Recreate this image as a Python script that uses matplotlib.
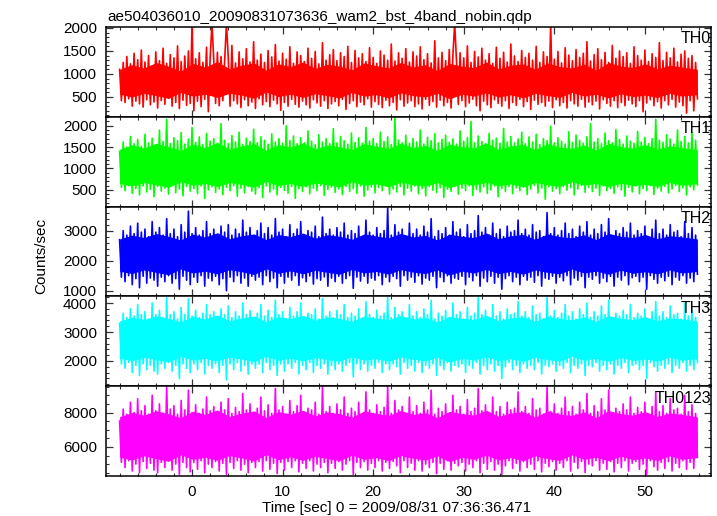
import numpy as np
import matplotlib
matplotlib.use("Agg")
import matplotlib.pyplot as plt
from matplotlib.ticker import MultipleLocator

plt.rcParams['font.family'] = ['Liberation Sans', 'DejaVu Sans']

title = "ae504036010_20090831073636_wam2_bst_4band_nobin.qdp"
xlabel = "Time [sec] 0 = 2009/08/31 07:36:36.471"
ylabel = "Counts/sec"
labels = ["TH0", "TH1", "TH2", "TH3", "TH0123"]
colors = ["#ff0000", "#00ff00", "#0000ff", "#00ffff", "#ff00ff"]
t_start = -8.0
t_step = 0.2          # light-curve bin spacing (s)
core_step = 1.35      # spacing of the dense-band envelope samples (s)

# Light-curve samples (counts/sec)
th0 = [
    1100, 420, 1250, 380, 1380, 460, 1220, 300, 1450, 410, 1310, 350, 1520, 280, 1260, 440, 1400, 330, 1180, 390,
    1480, 260, 1290, 420, 1560, 340, 1230, 470, 1420, 300, 1350, 380, 1610, 250, 1270, 430, 1390, 320, 1500, 360,
    2100, 200, 1330, 410, 1460, 290, 1250, 450, 1580, 180, 1340, 2100, 1290, 360, 1470, 310, 1380, 420, 1290, 2100,
    1350, 300, 1620, 420, 1240, 350, 1480, 270, 1330, 440, 1550, 310, 1260, 390, 1700, 250, 1300, 460, 1430, 330,
    1250, 400, 1510, 290, 1370, 430, 1640, 350, 1280, 210, 1450, 380, 1320, 300, 1590, 450, 1230, 340, 1480, 280,
    1400, 410, 1270, 330, 1560, 260, 1340, 440, 1490, 370, 1220, 300, 1680, 420, 1300, 250, 1420, 350, 1530, 400,
    1290, 310, 1460, 450, 1380, 230, 1600, 360, 1250, 420, 1510, 290, 1350, 390, 1440, 330, 1270, 460, 1570, 280,
    1360, 400, 1230, 340, 1500, 270, 1410, 430, 1300, 310, 1650, 380, 1280, 220, 1460, 440, 1340, 300, 1550, 370,
    1260, 420, 1480, 290, 1390, 350, 1590, 240, 1310, 450, 1440, 320, 1240, 400, 1720, 280, 1350, 430, 1470, 310,
    1290, 380, 1530, 260, 1400, 2100, 1280, 340, 1460, 420, 1350, 290, 1610, 370, 1250, 450, 1490, 310, 1370, 200,
    1560, 410, 1300, 330, 1440, 270, 1230, 440, 1580, 360, 1340, 300, 1470, 420, 1260, 250, 1650, 380, 1390, 320,
    1270, 450, 1510, 290, 1360, 400, 1450, 230, 1300, 430, 1600, 340, 1250, 380, 1480, 300, 1380, 410, 2100, 270,
    1320, 440, 1490, 310, 1240, 380, 1570, 260, 1410, 420, 1290, 350, 1530, 300, 1360, 450, 1450, 280, 1700, 390,
    1280, 330, 1420, 410, 1550, 240, 1310, 440, 1470, 360, 1250, 300, 1620, 420, 1340, 270, 1500, 380, 1380, 310,
    1460, 430, 1230, 350, 1590, 290, 1400, 420, 1300, 180, 1520, 370, 1270, 440, 1440, 310, 1360, 400, 1680, 260,
    1290, 420, 1470, 330, 1350, 450, 1560, 280, 1260, 390, 1430, 310, 1500, 150, 1340, 420, 1400, 200, 1250, 460,
]

th1 = [
    1400, 560, 1620, 480, 1500, 600, 1750, 420, 1580, 530, 1680, 380, 1520, 590, 1800, 450, 1600, 510, 1710, 340,
    1550, 580, 1900, 470, 1630, 540, 2150, 400, 1580, 600, 1720, 430, 1650, 520, 1840, 360, 1570, 580, 1690, 470,
    1960, 530, 1610, 410, 1740, 590, 1560, 300, 1820, 500, 1640, 570, 1700, 440, 1590, 520, 2050, 390, 1660, 560,
    1580, 480, 1770, 600, 1620, 350, 1850, 540, 1560, 430, 1710, 580, 1630, 470, 1920, 400, 1600, 550, 1740, 320,
    1660, 590, 1570, 450, 1810, 520, 1620, 380, 1700, 560, 1590, 490, 2000, 420, 1650, 580, 1760, 300, 1580, 530,
    1720, 460, 1600, 570, 1880, 410, 1640, 540, 1560, 480, 1790, 600, 1620, 370, 1700, 510, 1580, 560, 1930, 440,
    1600, 520, 1750, 390, 1650, 580, 1570, 460, 1830, 530, 1610, 420, 1720, 590, 1590, 350, 1960, 500, 1640, 570,
    1700, 430, 1580, 550, 1850, 480, 1630, 600, 1740, 400, 1560, 520, 2200, 450, 1660, 580, 1600, 380, 1780, 540,
    1590, 470, 1700, 590, 1620, 410, 1900, 530, 1570, 360, 1730, 580, 1650, 490, 1810, 440, 1600, 550, 1680, 320,
    1780, 520, 1610, 460, 1690, 580, 1570, 400, 1880, 540, 1640, 480, 1720, 590, 2100, 370, 1600, 510, 1760, 450,
    1630, 570, 1580, 420, 1820, 500, 1660, 590, 1710, 340, 1590, 530, 1940, 460, 1620, 580, 1750, 410, 1600, 550,
    1690, 480, 1850, 560, 1580, 390, 1740, 520, 1620, 600, 1800, 430, 1560, 540, 1700, 280, 1650, 570, 1990, 470,
    1600, 530, 1720, 410, 1640, 580, 1570, 490, 1860, 550, 1610, 380, 1780, 520, 1660, 600, 1590, 440, 1740, 560,
    2050, 460, 1620, 540, 1700, 370, 1580, 590, 1830, 480, 1650, 530, 1600, 420, 1910, 570, 1680, 500, 1570, 350,
    1760, 560, 1640, 450, 1590, 590, 1870, 410, 1620, 530, 1730, 480, 1580, 600, 1700, 390, 2150, 540, 1660, 470,
    1610, 580, 1790, 430, 1690, 520, 1570, 600, 1900, 460, 1630, 550, 1750, 380, 1600, 570, 1840, 500, 1660, 620,
]

th2 = [
    2700, 1450, 3000, 1300, 2850, 1500, 3150, 1200, 2900, 1400, 3250, 1100, 2950, 1480, 3050, 1250, 2800, 1420, 3300, 1350,
    2950, 1150, 3100, 1450, 2850, 1300, 3400, 1500, 2900, 1250, 3050, 1400, 2800, 1050, 3200, 1480, 2950, 1350, 3650, 1200,
    2900, 1450, 3100, 1280, 2850, 1500, 3000, 1150, 3300, 1420, 2900, 1330, 3050, 1480, 2800, 1200, 3150, 1400, 2950, 1000,
    3200, 1450, 2850, 1300, 3050, 1500, 2900, 1250, 3350, 1420, 2950, 1150, 3100, 1480, 2800, 1350, 3000, 1450, 3250, 1200,
    2900, 1500, 3100, 1300, 2850, 1420, 3400, 1100, 2950, 1480, 3050, 1250, 2800, 1450, 3200, 1350, 2900, 1500, 3050, 1180,
    3300, 1430, 2850, 1300, 3000, 1490, 2950, 1220, 3150, 1400, 2800, 1350, 3450, 1460, 2900, 1150, 3050, 1420, 2850, 1300,
    3100, 1480, 2950, 1250, 3250, 1400, 2850, 1500, 3000, 1080, 2900, 1450, 3150, 1320, 2800, 1480, 3350, 1250, 2950, 1420,
    2850, 1350, 3100, 1500, 2900, 1200, 3000, 1450, 3750, 1300, 2850, 1480, 3200, 1400, 2950, 1150, 3050, 1500, 2800, 1350,
    3250, 1450, 2900, 1280, 3050, 1500, 2850, 1220, 3150, 1420, 2950, 1350, 3400, 1480, 2800, 1100, 3000, 1450, 2900, 1300,
    3100, 1500, 2850, 1250, 3300, 1420, 2950, 1380, 3050, 1480, 2800, 1200, 3200, 1450, 2900, 1330, 3000, 1500, 3500, 1150,
    2950, 1420, 3100, 1300, 2850, 1480, 3250, 1250, 2900, 1450, 3050, 1050, 2800, 1400, 3150, 1500, 2950, 1300, 3000, 1450,
    3350, 1200, 2900, 1480, 3050, 1350, 2850, 1450, 3200, 1280, 2950, 1500, 3000, 1150, 2800, 1420, 3600, 1380, 2900, 1480,
    3100, 1250, 2850, 1450, 3000, 1330, 3250, 1500, 2900, 1200, 3050, 1420, 2800, 1350, 3150, 1480, 2950, 1100, 3300, 1450,
    2850, 1380, 3050, 1500, 2900, 1250, 3200, 1420, 2950, 1300, 3400, 1480, 2800, 1150, 3000, 1450, 2900, 1350, 3100, 1500,
    2950, 1200, 3250, 1430, 2850, 1480, 3000, 1300, 2900, 1450, 3150, 1050, 2800, 1500, 3050, 1380, 3350, 1250, 2900, 1450,
    3050, 1330, 2850, 1480, 3200, 1200, 2950, 1450, 3000, 1350, 2800, 1500, 3300, 1250, 2900, 1420, 3100, 1300, 2850, 1550,
]

th3 = [
    3300, 1900, 3650, 1750, 3500, 1950, 3800, 1600, 3550, 1850, 3950, 1500, 3600, 1900, 3700, 1700, 3450, 1850, 4000, 1650,
    3600, 1550, 3750, 1900, 3500, 1750, 4200, 1950, 3600, 1650, 3700, 1850, 3450, 1400, 3850, 1900, 3600, 1750, 4150, 1600,
    3550, 1900, 3750, 1700, 3500, 1950, 3650, 1550, 3950, 1850, 3600, 1750, 3700, 1900, 3450, 1600, 3800, 1850, 3600, 1350,
    3900, 1900, 3500, 1700, 3700, 1950, 3550, 1650, 4000, 1850, 3600, 1550, 3750, 1900, 3450, 1750, 3650, 1900, 3950, 1600,
    3550, 1950, 3750, 1700, 3500, 1850, 4100, 1500, 3600, 1900, 3700, 1650, 3450, 1900, 3850, 1750, 3550, 1950, 3700, 1550,
    4000, 1850, 3500, 1700, 3650, 1950, 3600, 1600, 3800, 1850, 3450, 1750, 4150, 1900, 3550, 1550, 3700, 1850, 3500, 1700,
    3750, 1900, 3600, 1650, 3950, 1850, 3500, 1950, 3650, 1450, 3550, 1900, 3800, 1700, 3450, 1900, 4050, 1650, 3600, 1850,
    3500, 1750, 3750, 1950, 3550, 1600, 3650, 1900, 4200, 1700, 3500, 1900, 3850, 1800, 3600, 1550, 3700, 1950, 3450, 1750,
    3950, 1850, 3550, 1650, 3700, 1950, 3500, 1600, 3800, 1850, 3600, 1750, 4100, 1900, 3450, 1500, 3650, 1850, 3550, 1700,
    3750, 1950, 3500, 1650, 4000, 1850, 3600, 1800, 3700, 1900, 3450, 1600, 3850, 1850, 3550, 1750, 3650, 1950, 4200, 1550,
    3600, 1850, 3750, 1700, 3500, 1900, 3950, 1650, 3550, 1850, 3700, 1400, 3450, 1800, 3800, 1950, 3600, 1700, 3650, 1850,
    4050, 1600, 3550, 1900, 3700, 1750, 3500, 1850, 3900, 1700, 3600, 1950, 3650, 1550, 3450, 1850, 4200, 1800, 3550, 1900,
    3750, 1650, 3500, 1850, 3650, 1750, 3950, 1950, 3550, 1600, 3700, 1850, 3450, 1750, 3800, 1900, 3600, 1500, 4000, 1850,
    3500, 1800, 3700, 1950, 3550, 1650, 3900, 1850, 3600, 1700, 4100, 1900, 3450, 1550, 3650, 1850, 3550, 1750, 3750, 1950,
    3600, 1600, 3950, 1850, 3500, 1900, 3650, 1700, 3550, 1850, 3800, 1400, 3450, 1950, 3700, 1800, 4050, 1650, 3550, 1850,
    3700, 1750, 3500, 1900, 3900, 1600, 3600, 1850, 3650, 1750, 3450, 1950, 4000, 1650, 3550, 1850, 3750, 1700, 3500, 1950,
]

th0123 = [
    7500, 5100, 8200, 4800, 7900, 5200, 8600, 4600, 8000, 5000, 8800, 4500, 8100, 5150, 8400, 4750, 7900, 5050, 9000, 4650,
    8100, 4500, 8500, 5100, 7950, 4800, 9500, 5200, 8200, 4650, 8400, 5000, 7900, 4400, 8700, 5100, 8150, 4800, 9300, 4550,
    8000, 5100, 8450, 4700, 7950, 5200, 8200, 4500, 8900, 5000, 8100, 4800, 8350, 5150, 7900, 4600, 8600, 5050, 8150, 4400,
    8800, 5100, 7950, 4750, 8300, 5200, 8050, 4650, 9100, 5000, 8150, 4500, 8500, 5100, 7900, 4800, 8250, 5150, 8900, 4600,
    8100, 5200, 8450, 4700, 7950, 5050, 9400, 4450, 8150, 5100, 8350, 4650, 7900, 5150, 8700, 4800, 8050, 5200, 8400, 4550,
    9000, 5050, 7950, 4750, 8250, 5200, 8150, 4600, 8600, 5000, 7900, 4800, 9500, 5100, 8050, 4500, 8350, 5050, 7950, 4750,
    8500, 5150, 8150, 4650, 8900, 5000, 7950, 5200, 8250, 4400, 8050, 5100, 8600, 4800, 7900, 5150, 9200, 4650, 8150, 5050,
    7950, 4800, 8450, 5200, 8050, 4600, 8300, 5100, 9500, 4750, 7950, 5150, 8700, 4900, 8150, 4500, 8350, 5200, 7900, 4800,
    8900, 5050, 8050, 4650, 8400, 5200, 7950, 4600, 8600, 5000, 8150, 4800, 9300, 5100, 7900, 4450, 8250, 5050, 8050, 4700,
    8500, 5200, 7950, 4650, 9000, 5050, 8150, 4900, 8350, 5100, 7900, 4600, 8750, 5000, 8050, 4800, 8250, 5200, 9400, 4500,
    8100, 5050, 8450, 4700, 7950, 5150, 8900, 4650, 8050, 5000, 8350, 4400, 7900, 4900, 8600, 5200, 8150, 4750, 8250, 5050,
    9200, 4600, 8050, 5150, 8350, 4800, 7950, 5000, 8800, 4700, 8150, 5200, 8250, 4550, 7900, 5050, 9500, 4850, 8050, 5150,
    8500, 4650, 7950, 5050, 8250, 4800, 8900, 5200, 8050, 4600, 8350, 5100, 7900, 4750, 8600, 5150, 8150, 4500, 9100, 5000,
    7950, 4900, 8400, 5200, 8050, 4650, 8800, 5050, 8150, 4700, 9300, 5150, 7900, 4550, 8250, 5050, 8050, 4800, 8500, 5200,
    8150, 4600, 8900, 5050, 7950, 5150, 8300, 4700, 8050, 5000, 8600, 4400, 7900, 5200, 8350, 4850, 9200, 4650, 8050, 5100,
    8400, 4750, 7950, 5150, 8800, 4600, 8150, 5050, 8250, 4800, 7900, 5200, 9000, 4700, 8050, 5100, 8450, 4750, 7950, 5400,
]

# Edges of the fully solid (densely over-plotted) part of each band
th0_core_lo = [560, 500, 580, 530, 470, 600, 520, 560, 490, 580, 540, 470, 610, 510, 560, 490,
               570, 530, 480, 600, 520, 550, 480, 590, 530, 500, 580, 460, 560, 520, 590, 500,
               550, 480, 580, 530, 490, 600, 520, 560, 480, 570, 510, 540, 490, 580, 520, 550]
th0_core_hi = [1100, 1200, 1130, 1250, 1170, 1060, 1230, 1150, 1270, 1110, 1190, 1240, 1080, 1220, 1160, 1260,
               1120, 1210, 1170, 1090, 1240, 1180, 1130, 1250, 1150, 1200, 1070, 1230, 1170, 1140, 1260, 1110,
               1190, 1220, 1100, 1240, 1160, 1130, 1210, 1080, 1250, 1170, 1140, 1220, 1110, 1190, 1150, 1100]
th1_core_lo = [650, 590, 670, 620, 560, 690, 610, 650, 580, 670, 630, 560, 700, 600, 650, 580,
               660, 620, 570, 690, 610, 640, 570, 680, 620, 590, 670, 550, 650, 610, 680, 590,
               640, 570, 670, 620, 580, 690, 610, 650, 570, 660, 600, 630, 580, 670, 610, 640]
th1_core_hi = [1450, 1550, 1480, 1590, 1510, 1420, 1570, 1490, 1610, 1450, 1530, 1580, 1430, 1560, 1500, 1600,
               1460, 1550, 1510, 1440, 1580, 1520, 1470, 1590, 1490, 1540, 1420, 1570, 1510, 1480, 1600, 1450,
               1530, 1560, 1440, 1580, 1500, 1470, 1550, 1430, 1590, 1510, 1480, 1560, 1450, 1530, 1490, 1440]
th2_core_lo = [1650, 1570, 1690, 1610, 1530, 1720, 1590, 1650, 1560, 1700, 1630, 1540, 1730, 1580, 1660, 1560,
               1680, 1610, 1550, 1710, 1590, 1640, 1550, 1700, 1620, 1570, 1690, 1520, 1650, 1590, 1710, 1570,
               1640, 1550, 1690, 1610, 1560, 1720, 1590, 1650, 1550, 1680, 1580, 1630, 1560, 1690, 1590, 1640]
th2_core_hi = [2720, 2850, 2770, 2900, 2810, 2690, 2880, 2790, 2930, 2730, 2830, 2890, 2700, 2870, 2800, 2920,
               2750, 2860, 2810, 2710, 2890, 2820, 2760, 2910, 2790, 2840, 2690, 2880, 2810, 2770, 2920, 2730,
               2830, 2870, 2710, 2890, 2800, 2760, 2860, 2700, 2910, 2810, 2770, 2870, 2730, 2830, 2790, 2720]
th3_core_lo = [2090, 2010, 2130, 2050, 1970, 2160, 2030, 2090, 2000, 2140, 2070, 1980, 2170, 2020, 2100, 2000,
               2120, 2050, 1990, 2150, 2030, 2080, 1990, 2140, 2060, 2010, 2130, 1960, 2090, 2030, 2150, 2010,
               2080, 1990, 2130, 2050, 2000, 2160, 2030, 2090, 1990, 2120, 2020, 2070, 2000, 2130, 2030, 2080]
th3_core_hi = [3380, 3510, 3430, 3560, 3470, 3350, 3540, 3450, 3590, 3390, 3490, 3550, 3360, 3530, 3460, 3580,
               3410, 3520, 3470, 3370, 3550, 3480, 3420, 3570, 3450, 3500, 3350, 3540, 3470, 3430, 3580, 3390,
               3490, 3530, 3370, 3550, 3460, 3420, 3520, 3360, 3570, 3470, 3430, 3530, 3390, 3490, 3450, 3380]
th0123_core_lo = [5400, 5240, 5480, 5320, 5160, 5540, 5280, 5400, 5220, 5500, 5360, 5180, 5560, 5260, 5420, 5220,
                  5460, 5320, 5200, 5520, 5280, 5380, 5200, 5500, 5340, 5240, 5480, 5140, 5400, 5280, 5520, 5240,
                  5380, 5200, 5480, 5320, 5220, 5540, 5280, 5400, 5200, 5460, 5260, 5360, 5220, 5480, 5280, 5380]
th0123_core_hi = [7750, 8000, 7850, 8100, 7930, 7700, 8070, 7890, 8150, 7770, 7970, 8090, 7710, 8050, 7910, 8130,
                  7810, 8030, 7930, 7730, 8090, 7950, 7830, 8120, 7890, 7990, 7700, 8070, 7930, 7850, 8140, 7770,
                  7970, 8050, 7730, 8090, 7910, 7830, 8030, 7710, 8120, 7930, 7850, 8050, 7770, 7970, 7890, 7750]

series = [th0, th1, th2, th3, th0123]
core_lo = [th0_core_lo, th1_core_lo, th2_core_lo, th3_core_lo, th0123_core_lo]
core_hi = [th0_core_hi, th1_core_hi, th2_core_hi, th3_core_hi, th0123_core_hi]
ylims = [(70, 2020), (108, 2210), (810, 3800), (1130, 4230), (4310, 9530)]
ymajor = [500, 500, 1000, 1000, 2000]
yminor = [100, 100, 200, 200, 500]
xlim = (-9.5, 57.3)

W, H = 717, 516
fig = plt.figure(figsize=(W / 100, H / 100), dpi=100)

left_px, right_px = 106, 711
top_px, bottom_px = 27, 476
ph = (bottom_px - top_px) / 5.0

for k in range(5):
    ax = fig.add_axes([left_px / W, 1 - (top_px + (k + 1) * ph) / H,
                       (right_px - left_px) / W, ph / H])
    y = np.array(series[k], dtype=float)
    t = t_start + t_step * np.arange(len(y))
    lo = np.array(core_lo[k], dtype=float)
    hi = np.array(core_hi[k], dtype=float)
    tc = t_start + core_step * np.arange(len(lo))
    tc[-1] = t[-1]
    ax.fill_between(tc, lo, hi, color=colors[k], lw=0, zorder=2)
    ax.plot(t, y, color=colors[k], lw=1.2, zorder=3)
    ax.set_xlim(*xlim)
    ax.set_ylim(*ylims[k])
    ax.xaxis.set_major_locator(MultipleLocator(10))
    ax.xaxis.set_minor_locator(MultipleLocator(2))
    ax.yaxis.set_major_locator(MultipleLocator(ymajor[k]))
    ax.yaxis.set_minor_locator(MultipleLocator(yminor[k]))
    ax.tick_params(which='both', direction='in', top=True, right=True,
                   labelsize=11, pad=6.5, color='#333333')
    ax.tick_params(which='major', length=5, width=0.9)
    ax.tick_params(which='minor', length=2.5, width=0.8)
    for s in ax.spines.values():
        s.set_linewidth(1.1)
        s.set_color('black')
        s.set_zorder(4)
    if k < 4:
        ax.tick_params(labelbottom=False)
    ax.text(1.0, 0.95, labels[k], transform=ax.transAxes, ha='right', va='top',
            fontsize=11.5, zorder=5)

fig.text(107 / W, 1 - 21 / H, title, ha='left', va='baseline', fontsize=11)
fig.text(41 / W, 1 - 256 / H, ylabel, rotation=90, ha='center', va='center', fontsize=11)
fig.text(397 / W, 1 - 508 / H, xlabel, ha='center', va='center', fontsize=11)

fig.savefig("out.png", dpi=100)
